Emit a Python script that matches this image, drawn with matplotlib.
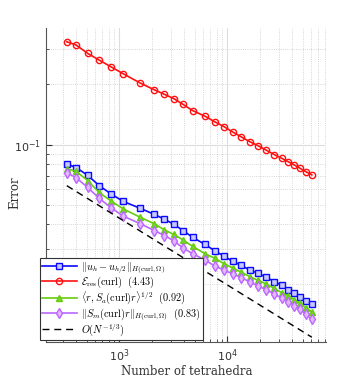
import matplotlib
matplotlib.use("Agg")
import matplotlib.pyplot as plt
from matplotlib.ticker import LogLocator, NullFormatter

plt.rcParams['mathtext.fontset'] = 'cm'

# Number of tetrahedra
N = [328, 400, 513, 653, 843, 1097, 1565, 2124, 2628, 3207, 3914, 4810, 6256,
     7743, 9380, 11280, 13580, 16220, 19230, 23120, 27420, 32080, 36720,
     42000, 47420, 53480, 60840]

err_diff = [0.0801, 0.0769, 0.0702, 0.0625, 0.0567, 0.0520, 0.0481, 0.0448,
            0.0424, 0.0400, 0.0372, 0.0344, 0.0317, 0.0294, 0.0277, 0.0261,
            0.0249, 0.0236, 0.0228, 0.0217, 0.0207, 0.0198, 0.0187, 0.0181,
            0.0174, 0.0166, 0.0159]

err_res = [0.327, 0.315, 0.286, 0.265, 0.245, 0.226, 0.2035, 0.188, 0.1786,
           0.170, 0.159, 0.148, 0.1387, 0.1299, 0.1230, 0.1157, 0.1093,
           0.1035, 0.0990, 0.0938, 0.0891, 0.0855, 0.0822, 0.0791, 0.0762,
           0.0733, 0.0706]

err_sa = [0.0759, 0.0735, 0.0662, 0.0577, 0.0523, 0.0477, 0.0434, 0.0402,
          0.0375, 0.0356, 0.0334, 0.0310, 0.0285, 0.0270, 0.0254, 0.0242,
          0.0230, 0.0219, 0.0210, 0.0201, 0.0191, 0.0182, 0.0176, 0.0168,
          0.0161, 0.0153, 0.0146]

err_sm = [0.0724, 0.0684, 0.0611, 0.0540, 0.0484, 0.0439, 0.0403, 0.0372,
          0.0351, 0.0331, 0.0304, 0.0285, 0.0265, 0.0247, 0.0236, 0.0226,
          0.0216, 0.0206, 0.0197, 0.0188, 0.0179, 0.0171, 0.0164, 0.0157,
          0.0150, 0.0142, 0.0134]

ref_N = [328, 60840]
ref_err = [0.0624, 0.0109]

labels = [
    r'$\|u_h - u_{h/2}\|_{H(\mathrm{curl},\Omega)}$',
    r'$\mathcal{E}_{\mathrm{res}}(\mathrm{curl})\ \ (4.43)$',
    r'$\langle r, S_a(\mathrm{curl})r\rangle^{1/2}\ \ (0.92)$',
    r'$\|S_m(\mathrm{curl})r\|_{H(\mathrm{curl},\Omega)}\ \ (0.83)$',
    r'$O(N^{-1/3})$',
]

fig = plt.figure(figsize=(3.6, 3.84), dpi=100)
ax = fig.add_axes([0.128, 0.109, 0.778, 0.818])

ax.loglog(N, err_diff, '-s', color='#0a0aff', lw=1.2, ms=4.5, mew=1.0,
          mfc='#c8c8ff', mec='#0a0aff', label=labels[0])
ax.loglog(N, err_res, '-o', color='#ff1010', lw=1.2, ms=4.5, mew=1.0,
          mfc='none', mec='#ff1010', label=labels[1])
ax.loglog(N, err_sa, '-^', color='#66cc11', lw=1.2, ms=5, mew=1.0,
          mfc='#7ad62a', mec='#66cc11', label=labels[2])
ax.loglog(N, err_sm, '-d', color='#bb66ff', lw=1.2, ms=5, mew=1.0,
          mfc='#e2b8ff', mec='#bb66ff', label=labels[3])
ax.loglog(ref_N, ref_err, '--', color='black', lw=1.0, dashes=(5, 3.5),
          label=labels[4])

ax.set_xlim(211, 82600)
ax.set_ylim(0.0103, 0.383)

ax.xaxis.set_major_locator(LogLocator(base=10))
ax.xaxis.set_minor_locator(LogLocator(base=10, subs=range(2, 10)))
ax.xaxis.set_minor_formatter(NullFormatter())
ax.yaxis.set_major_locator(LogLocator(base=10))
ax.yaxis.set_minor_locator(LogLocator(base=10, subs=range(2, 10)))
ax.yaxis.set_minor_formatter(NullFormatter())

ax.grid(True, which='major', color='#dddddd', lw=0.8, ls='-')
ax.grid(True, which='minor', color='#c8c8c8', lw=0.6, ls=':')
ax.set_axisbelow(True)

for s in ['top', 'right']:
    ax.spines[s].set_visible(False)
for s in ['left', 'bottom']:
    ax.spines[s].set_color('#555555')
    ax.spines[s].set_linewidth(0.8)

ax.tick_params(which='both', direction='in', colors='#333333', labelsize=8)
ax.tick_params(which='major', length=4)
ax.tick_params(which='minor', length=2.2)

ax.set_xlabel('Number of tetrahedra', family='DejaVu Serif', fontsize=8.5,
              color='#333333')
ax.set_ylabel('Error', family='DejaVu Serif', fontsize=8.5, color='#333333')
ax.xaxis.set_label_coords(0.502, -0.095, transform=ax.transAxes)
ax.yaxis.set_label_coords(-0.11, 0.475, transform=ax.transAxes)
ax.xaxis.label.set_va('center')
ax.yaxis.label.set_va('center')

leg = ax.legend(loc='lower left', bbox_to_anchor=(0.111, 0.1146),
                bbox_transform=fig.transFigure, borderaxespad=0,
                fontsize=7.4, fancybox=False, framealpha=1,
                edgecolor='#333333', handlelength=3.4, handletextpad=0.4,
                borderpad=0.2, labelspacing=-0.05)
leg.get_frame().set_linewidth(0.8)

fig.savefig('out.png', dpi=100)
